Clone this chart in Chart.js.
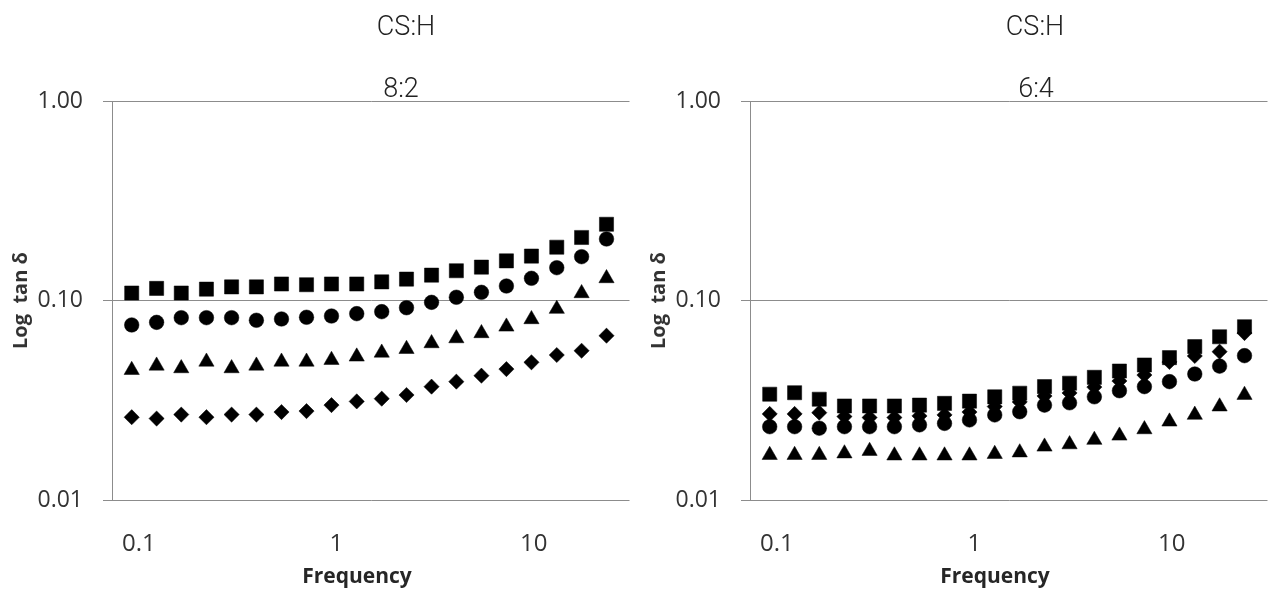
<!DOCTYPE html>
<html>
<head>
<meta charset="utf-8">
<script src="https://cdn.jsdelivr.net/npm/chart.js@4.4.1/dist/chart.umd.min.js"></script>
<style>
  html, body { margin: 0; padding: 0; background: #fff; width: 1268px; height: 593px; overflow: hidden; }
  .panel { position: absolute; top: 0; width: 640px; height: 593px; }
  .panel canvas { position: absolute; left: 0; top: 0; }
  .ttl { position: absolute; transform: translateX(-50%); font-family: "Roboto", sans-serif; font-weight: 300;
         font-size: 27px; color: #222; white-space: nowrap; line-height: 1; }
  .xt { position: absolute; transform: translateX(-50%); font-family: "Open Sans", sans-serif; font-weight: bold;
        font-size: 21px; color: #262626; white-space: nowrap; line-height: 1; top: 565px; }
</style>
</head>
<body>
<div class="panel" style="left:0">
  <canvas id="chart-82" width="640" height="593"></canvas>
  <div class="ttl" style="left:406px; top:13px">CS:H</div>
  <div class="ttl" style="left:401px; top:75px">8:2</div>
  <div class="xt" style="left:357px">Frequency</div>
</div>
<div class="panel" style="left:638px">
  <canvas id="chart-64" width="640" height="593"></canvas>
  <div class="ttl" style="left:397px; top:13px">CS:H</div>
  <div class="ttl" style="left:398px; top:75px">6:4</div>
  <div class="xt" style="left:357px">Frequency</div>
</div>
<script>
// frequency (x)
const freq = [0.092, 0.123, 0.164, 0.22, 0.295, 0.394, 0.528, 0.707, 0.946, 1.27,
              1.70, 2.27, 3.04, 4.06, 5.44, 7.28, 9.75, 13.1, 17.5, 23.4];
const xTickValues = [0.1, 1, 10];
const yTickValues = [0.01, 0.1, 1];

// CS:H 8:2
const sq82 = [0.109, 0.115, 0.109, 0.114, 0.117, 0.117, 0.121, 0.120, 0.121, 0.121,
              0.124, 0.128, 0.134, 0.141, 0.147, 0.158, 0.167, 0.185, 0.207, 0.241];
const ci82 = [0.0754, 0.0777, 0.082, 0.082, 0.082, 0.0796, 0.0808, 0.0824, 0.0836, 0.0859,
              0.0879, 0.092, 0.0979, 0.1038, 0.1099, 0.1182, 0.1292, 0.146, 0.1658, 0.2034];
const tr82 = [0.0448, 0.0471, 0.0457, 0.0493, 0.0457, 0.0471, 0.0493, 0.0493, 0.0503, 0.0523,
              0.0547, 0.0571, 0.061, 0.0646, 0.0685, 0.0739, 0.0805, 0.0907, 0.1087, 0.1292];
const di82 = [0.026, 0.0256, 0.0268, 0.026, 0.0268, 0.0268, 0.0276, 0.0279, 0.0299, 0.0312,
              0.0322, 0.0336, 0.037, 0.0392, 0.042, 0.0453, 0.049, 0.0533, 0.056, 0.0666];

// CS:H 6:4
const sq64 = [0.0339, 0.0345, 0.032, 0.0296, 0.0296, 0.0296, 0.0299, 0.0305, 0.0313, 0.0329,
              0.0343, 0.037, 0.0385, 0.0412, 0.0443, 0.0475, 0.0517, 0.0587, 0.0658, 0.0739];
const ci64 = [0.0233, 0.0233, 0.0229, 0.0233, 0.0233, 0.0233, 0.0238, 0.0242, 0.0252, 0.0267,
              0.0277, 0.0299, 0.0307, 0.0329, 0.0353, 0.037, 0.0392, 0.0428, 0.0469, 0.0529];
const tr64 = [0.0168, 0.0168, 0.0168, 0.0171, 0.0176, 0.0167, 0.0167, 0.0167, 0.0167, 0.017,
              0.0173, 0.0185, 0.019, 0.02, 0.021, 0.0226, 0.0247, 0.0267, 0.0294, 0.0336];
const di64 = [0.027, 0.027, 0.0274, 0.0262, 0.0259, 0.0259, 0.0264, 0.0267, 0.0276, 0.0294,
              0.031, 0.0332, 0.0344, 0.0368, 0.0395, 0.0423, 0.0492, 0.0527, 0.0554, 0.0687];

const GRID = '#8c8c8c';
const TEXT = '#333';

function points(vals) {
  return vals.map((v, i) => ({ x: freq[i], y: v }));
}

function series(vals, style, radius) {
  return {
    data: points(vals),
    pointStyle: style,
    pointRadius: radius,
    pointHoverRadius: radius,
    pointBackgroundColor: '#000',
    pointBorderColor: '#000',
    pointBorderWidth: 0.5,
    showLine: false
  };
}

function makeChart(id, sq, ci, tr, di) {
  // first dataset is drawn on top, diamonds sit underneath
  return new Chart(document.getElementById(id), {
    type: 'scatter',
    data: {
      datasets: [
        series(sq, 'rect', 10),
        series(ci, 'circle', 7.3),
        series(tr, 'triangle', 8.8),
        series(di, 'rectRot', 7.6)
      ]
    },
    options: {
      responsive: false,
      animation: false,
      devicePixelRatio: 1,
      layout: { padding: { top: 101, right: 2, left: 0, bottom: 0 } },
      plugins: { legend: { display: false }, tooltip: { enabled: false } },
      scales: {
        x: {
          type: 'logarithmic',
          min: 0.0731,
          max: 30.6,
          afterBuildTicks: s => { s.ticks = xTickValues.map(v => ({ value: v })); },
          afterFit: s => { s.height = 93; s.paddingLeft = 0; s.paddingRight = 0; },
          ticks: {
            autoSkip: false,
            maxRotation: 0,
            padding: 0,
            color: TEXT,
            font: { family: 'Open Sans', size: 24 },
            callback: v => String(v)
          },
          grid: { display: false, drawTicks: true, tickLength: 30 },
          border: { display: false }
        },
        y: {
          type: 'logarithmic',
          min: 0.01,
          max: 1,
          afterBuildTicks: s => { s.ticks = yTickValues.map(v => ({ value: v })); },
          afterFit: s => { s.width = 112; s.paddingTop = 0; s.paddingBottom = 0; },
          ticks: {
            autoSkip: false,
            padding: 20,
            color: TEXT,
            font: { family: 'Open Sans', size: 23 },
            callback: v => Number(v).toFixed(2)
          },
          grid: { color: GRID, lineWidth: 1, drawTicks: true, tickLength: 9 },
          border: { display: true, color: GRID, width: 1 },
          title: {
            display: true,
            text: 'Log  tan δ',
            color: TEXT,
            padding: { top: 9, bottom: 0 },
            font: { family: 'Open Sans', size: 20, weight: 'bold' }
          }
        }
      }
    }
  });
}

makeChart('chart-82', sq82, ci82, tr82, di82);
makeChart('chart-64', sq64, ci64, tr64, di64);
</script>
</body>
</html>
